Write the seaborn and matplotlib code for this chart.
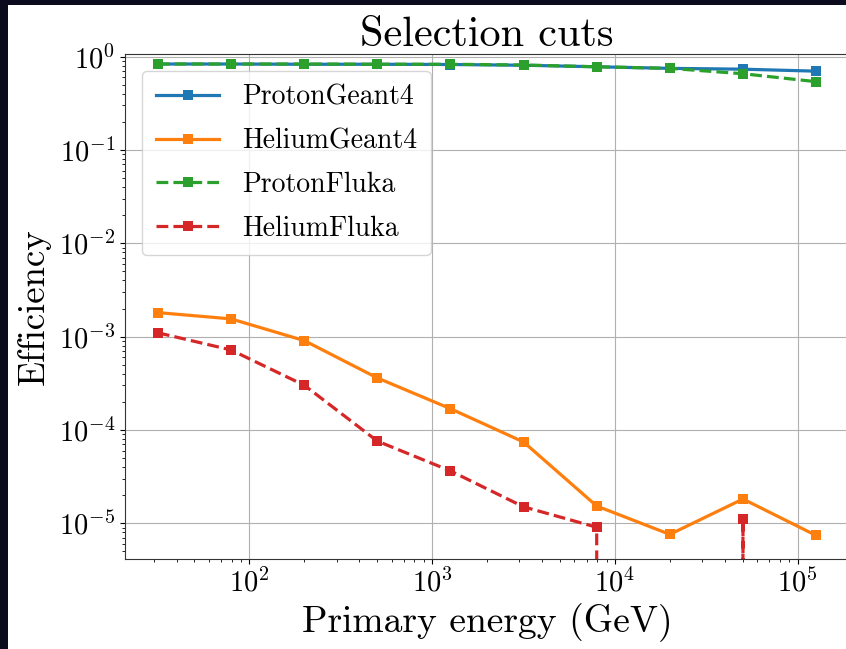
import numpy as np
import pandas as pd
import matplotlib
matplotlib.use("Agg")
import matplotlib.pyplot as plt
from matplotlib.patches import Rectangle
import seaborn as sns

# Bin centres of primary energy (GeV)
energy = [31.6, 79.4, 200.0, 501.0, 1259.0, 3162.0, 7943.0, 19953.0, 50119.0, 125893.0]

# Selection efficiency per sample
proton_geant4 = [0.835, 0.835, 0.83, 0.83, 0.825, 0.81, 0.78, 0.75, 0.735, 0.70]
helium_geant4 = [1.81e-3, 1.55e-3, 9.06e-4, 3.61e-4, 1.69e-4, 7.43e-5, 1.53e-5, 7.6e-6, 1.82e-5, 7.4e-6]
proton_fluka = [0.835, 0.835, 0.835, 0.83, 0.83, 0.815, 0.78, 0.75, 0.657, 0.54]
helium_fluka = [1.10e-3, 7.2e-4, 3.01e-4, 7.6e-5, 3.64e-5, 1.5e-5, 9.06e-6, 0.0, 1.10e-5, 0.0]

samples = ["ProtonGeant4", "HeliumGeant4", "ProtonFluka", "HeliumFluka"]
series = [proton_geant4, helium_geant4, proton_fluka, helium_fluka]
colors = ["#1f77b4", "#ff7f0e", "#2ca02c", "#d62728"]

df = pd.concat(
    [pd.DataFrame({"energy": energy, "efficiency": vals, "sample": name})
     for name, vals in zip(samples, series)],
    ignore_index=True,
)

plt.rcParams["font.family"] = ["cmr10"]
plt.rcParams["mathtext.fontset"] = "cm"
plt.rcParams["axes.formatter.use_mathtext"] = True
plt.rcParams["axes.unicode_minus"] = False

W, H = 846, 649
fig = plt.figure(figsize=(W / 100, H / 100), dpi=100)
fig.patch.set_facecolor("#0b0b1d")
fig.add_artist(Rectangle((8 / W, 0), 1, (H - 5) / H, transform=fig.transFigure,
                         facecolor="white", edgecolor="none", zorder=-5))

ax = fig.add_axes([125 / W, (H - 559) / H, (849 - 125) / W, (559 - 54) / H])
ax.set_xscale("log")
ax.set_yscale("log")

sns.lineplot(
    data=df, x="energy", y="efficiency", hue="sample", style="sample",
    hue_order=samples, style_order=samples,
    palette=dict(zip(samples, colors)),
    markers={s: "s" for s in samples},
    dashes={"ProtonGeant4": "", "HeliumGeant4": "",
            "ProtonFluka": (3.7, 1.6), "HeliumFluka": (3.7, 1.6)},
    linewidth=2.3, markersize=7, markeredgewidth=0, errorbar=None, ax=ax,
)

ax.set_xlim(10 ** 1.32, 10 ** 5.28)
ax.set_ylim(10 ** -5.383, 10 ** 0.029)
ax.grid(True, which="major", color="#b0b0b0", linewidth=0.8)
ax.set_axisbelow(True)
for sp in ax.spines.values():
    sp.set_color("#333333")

ax.set_title("Selection cuts", fontsize=30.5)
ax.set_xlabel("Primary energy (GeV)", fontsize=27)
ax.set_ylabel("Efficiency", fontsize=26.5, labelpad=6)
ax.tick_params(axis="both", which="major", labelsize=20.5)

sns.move_legend(ax, "upper left", title=None, fontsize=20, frameon=True,
                framealpha=0.8, handlelength=2.3, labelspacing=0.62,
                borderpad=0.5, borderaxespad=0.6, handletextpad=0.8)

fig.savefig("out.png", dpi=100, facecolor=fig.get_facecolor())
